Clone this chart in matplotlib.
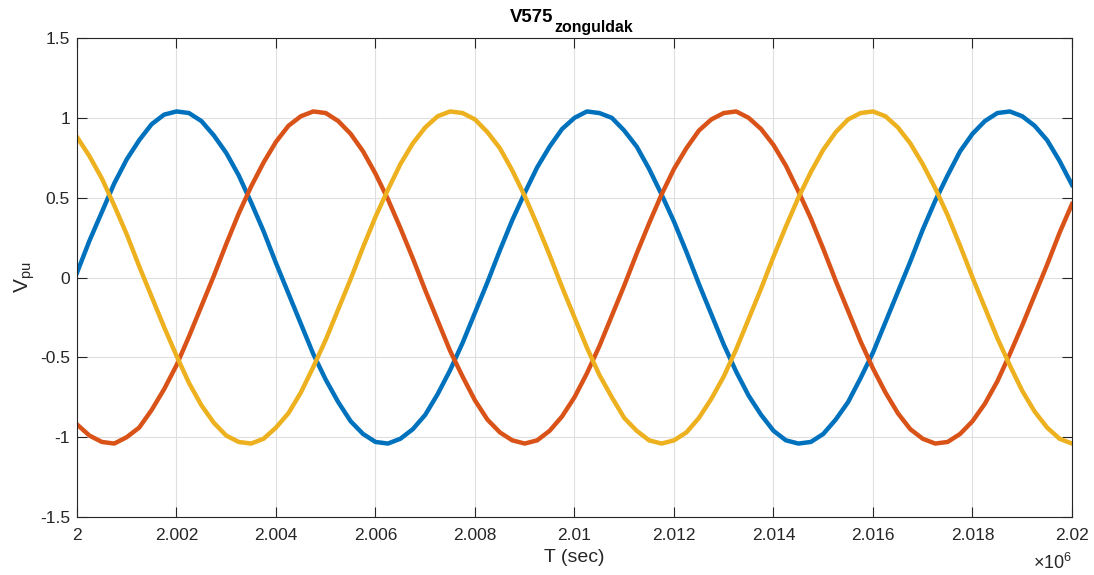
import matplotlib
matplotlib.use("Agg")
import matplotlib.pyplot as plt

plt.rcParams['font.family'] = ['Liberation Sans', 'DejaVu Sans']
plt.rcParams['mathtext.fontset'] = 'custom'
plt.rcParams['mathtext.rm'] = 'Liberation Sans'
plt.rcParams['mathtext.it'] = 'Liberation Sans'
plt.rcParams['mathtext.bf'] = 'Liberation Sans:bold'

# time in units of 1e6 sec (as shown on the axis with x10^6 multiplier)
t = [2.00000, 2.00025, 2.00050, 2.00075, 2.00100, 2.00125, 2.00150, 2.00175,
     2.00200, 2.00225, 2.00250, 2.00275, 2.00300, 2.00325, 2.00350, 2.00375,
     2.00400, 2.00425, 2.00450, 2.00475, 2.00500, 2.00525, 2.00550, 2.00575,
     2.00600, 2.00625, 2.00650, 2.00675, 2.00700, 2.00725, 2.00750, 2.00775,
     2.00800, 2.00825, 2.00850, 2.00875, 2.00900, 2.00925, 2.00950, 2.00975,
     2.01000, 2.01025, 2.01050, 2.01075, 2.01100, 2.01125, 2.01150, 2.01175,
     2.01200, 2.01225, 2.01250, 2.01275, 2.01300, 2.01325, 2.01350, 2.01375,
     2.01400, 2.01425, 2.01450, 2.01475, 2.01500, 2.01525, 2.01550, 2.01575,
     2.01600, 2.01625, 2.01650, 2.01675, 2.01700, 2.01725, 2.01750, 2.01775,
     2.01800, 2.01825, 2.01850, 2.01875, 2.01900, 2.01925, 2.01950, 2.01975,
     2.02000]

phase_a = [0.03, 0.23, 0.41, 0.59, 0.74, 0.86, 0.96, 1.02, 1.04, 1.03,
           0.98, 0.89, 0.78, 0.64, 0.47, 0.29, 0.09, -0.10, -0.29, -0.48,
           -0.64, -0.78, -0.90, -0.98, -1.03, -1.04, -1.01, -0.95, -0.86, -0.73,
           -0.58, -0.41, -0.22, -0.03, 0.17, 0.36, 0.53, 0.69, 0.82, 0.93,
           1.00, 1.04, 1.03, 1.00, 0.92, 0.82, 0.68, 0.52, 0.35, 0.16,
           -0.04, -0.23, -0.42, -0.59, -0.74, -0.86, -0.96, -1.02, -1.04, -1.03,
           -0.98, -0.89, -0.78, -0.63, -0.47, -0.28, -0.09, 0.10, 0.30, 0.48,
           0.64, 0.79, 0.90, 0.98, 1.03, 1.04, 1.01, 0.95, 0.86, 0.73,
           0.58]

phase_b = [-0.92, -0.99, -1.03, -1.04, -1.00, -0.94, -0.83, -0.70, -0.55, -0.37,
           -0.18, 0.01, 0.21, 0.40, 0.57, 0.72, 0.85, 0.95, 1.01, 1.04,
           1.03, 0.98, 0.90, 0.79, 0.65, 0.49, 0.31, 0.12, -0.08, -0.27,
           -0.46, -0.62, -0.77, -0.89, -0.97, -1.02, -1.04, -1.02, -0.96, -0.87,
           -0.75, -0.60, -0.43, -0.24, -0.05, 0.15, 0.34, 0.52, 0.68, 0.81,
           0.92, 0.99, 1.03, 1.04, 1.00, 0.93, 0.83, 0.70, 0.54, 0.37,
           0.18, -0.02, -0.21, -0.40, -0.57, -0.72, -0.85, -0.95, -1.01, -1.04,
           -1.03, -0.98, -0.90, -0.79, -0.65, -0.48, -0.30, -0.11, 0.08, 0.28,
           0.46]

phase_c = [0.88, 0.76, 0.62, 0.45, 0.27, 0.07, -0.12, -0.31, -0.49, -0.66,
           -0.80, -0.91, -0.99, -1.03, -1.04, -1.01, -0.94, -0.85, -0.72, -0.56,
           -0.39, -0.20, -0.01, 0.19, 0.38, 0.55, 0.71, 0.84, 0.94, 1.01,
           1.04, 1.03, 0.99, 0.91, 0.81, 0.67, 0.51, 0.33, 0.14, -0.06,
           -0.25, -0.44, -0.61, -0.75, -0.88, -0.96, -1.02, -1.04, -1.02, -0.97,
           -0.88, -0.76, -0.62, -0.45, -0.26, -0.07, 0.13, 0.32, 0.50, 0.66,
           0.80, 0.91, 0.99, 1.03, 1.04, 1.01, 0.94, 0.84, 0.71, 0.56,
           0.39, 0.20, 0.00, -0.19, -0.38, -0.55, -0.71, -0.84, -0.94, -1.01,
           -1.04]

xticks = [2.000, 2.002, 2.004, 2.006, 2.008, 2.010, 2.012, 2.014, 2.016, 2.018, 2.020]
xtick_labels = ['2', '2.002', '2.004', '2.006', '2.008', '2.01', '2.012', '2.014',
                '2.016', '2.018', '2.02']
yticks = [-1.5, -1, -0.5, 0, 0.5, 1, 1.5]
ytick_labels = ['-1.5', '-1', '-0.5', '0', '0.5', '1', '1.5']

colors = ['#0072BD', '#D95319', '#EDB120']
dark = '#262626'

W, H = 1094, 575
fig = plt.figure(figsize=(W / 100, H / 100), dpi=100)
ax = fig.add_axes([77 / W, 1 - 517 / H, (1072 - 77) / W, (517 - 38) / H])

for series, c in zip([phase_a, phase_b, phase_c], colors):
    ax.plot(t, series, color=c, linewidth=3.2, solid_joinstyle='round')

ax.set_xlim(2.000, 2.020)
ax.set_ylim(-1.5, 1.5)
ax.set_xticks(xticks)
ax.set_xticklabels(xtick_labels)
ax.set_yticks(yticks)
ax.set_yticklabels(ytick_labels)

ax.grid(True, color='#dfdfdf', linewidth=0.8)
ax.set_axisbelow(True)
ax.tick_params(direction='in', length=7, width=0.8, color=dark, labelcolor=dark,
               labelsize=12.5, top=True, right=True)
ax.tick_params(axis='x', pad=8)
ax.tick_params(axis='y', pad=5)
for s in ax.spines.values():
    s.set_color(dark)
    s.set_linewidth(0.8)

# title: V575 with subscript "zonguldak"
fig.text(510 / W, 1 - 22 / H, 'V575', fontsize=13.4, fontweight='bold',
         color='black', ha='left', va='baseline')
fig.text(554 / W, 1 - 32 / H, 'zonguldak', fontsize=11.4, fontweight='bold',
         color='black', ha='left', va='baseline')

ax.set_xlabel('T (sec)', fontsize=14, color=dark, labelpad=4.5)
ax.set_ylabel(r'$\mathrm{V_{pu}}$', fontsize=15, color=dark, labelpad=2)

fig.text(1072 / W, 1 - 569 / H, r'$\times10^{6}$', fontsize=13, color=dark,
         ha='right', va='baseline')

fig.savefig('out.png', dpi=100, facecolor='white')
